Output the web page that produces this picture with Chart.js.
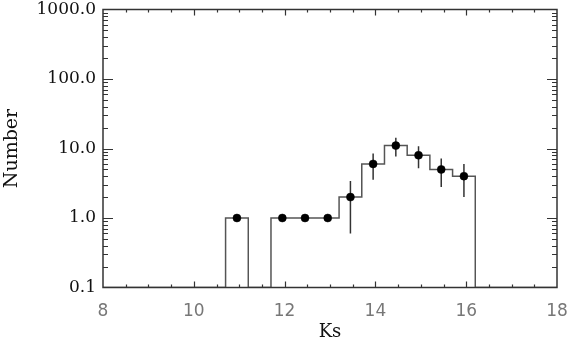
<!DOCTYPE html>
<html>
<head>
<meta charset="utf-8">
<script src="https://cdn.jsdelivr.net/npm/chart.js@4/dist/chart.umd.min.js"></script>
<style>
  html, body { margin: 0; padding: 0; background: #fff; }
  canvas { display: block; }
</style>
</head>
<body>
<canvas id="c" width="570" height="347"></canvas>
<script>
// ---- data ----
const binCenters = [10.95, 11.45, 11.95, 12.45, 12.95, 13.45, 13.95, 14.45, 14.95, 15.45, 15.95];
const counts     = [1, 0, 1, 1, 1, 2, 6, 11, 8, 5, 4];
const countErr   = [0, 0, 0, 0, 0, 1.4, 2.45, 3.3, 2.8, 2.2, 2.0];
const binWidth = 0.5;
const xTicks = [8, 10, 12, 14, 16, 18];
const xMinorStep = 0.5;
const yTicks = [0.1, 1, 10, 100, 1000];
const xTitle = 'Ks';
const yTitle = 'Number';

const yMin = yTicks[0], yMax = yTicks[yTicks.length - 1];
const xMin = xTicks[0], xMax = xTicks[xTicks.length - 1];

// histogram outline (stepped: vertical at left edge, then horizontal to right edge)
const histPts = [{x: xMin, y: yMin}, {x: binCenters[0] - binWidth / 2, y: yMin}];
binCenters.forEach((c, i) => {
  histPts.push({x: c + binWidth / 2, y: counts[i] > 0 ? counts[i] : yMin});
});
histPts.push({x: xMax, y: yMin});

// markers
const markerPts = [];
binCenters.forEach((c, i) => { if (counts[i] > 0) markerPts.push({x: c, y: counts[i]}); });

// error bars (broken by nulls)
const errPts = [];
binCenters.forEach((c, i) => {
  if (countErr[i] > 0) {
    errPts.push({x: c, y: counts[i] - countErr[i]});
    errPts.push({x: c, y: counts[i] + countErr[i]});
    errPts.push({x: c, y: null});
  }
});

const frameColor = '#333';

const framePlugin = {
  id: 'frame',
  afterDatasetsDraw(chart) {
    const {ctx, chartArea: a} = chart;
    const xs = chart.scales.x, ys = chart.scales.y;
    ctx.save();
    ctx.strokeStyle = frameColor;
    ctx.lineWidth = 1.2;
    const n = Math.round((xMax - xMin) / xMinorStep);
    for (let i = 1; i < n; i++) {
      const v = xMin + i * xMinorStep;
      const major = xTicks.includes(v);
      const len = major ? 6 : 3;
      const px = Math.round(xs.getPixelForValue(v)) + 0.5;
      ctx.beginPath();
      ctx.moveTo(px, a.bottom); ctx.lineTo(px, a.bottom - len);
      ctx.moveTo(px, a.top); ctx.lineTo(px, a.top + len);
      ctx.stroke();
    }
    for (let d = 0; d < yTicks.length - 1; d++) {
      for (let k = 1; k <= 9; k++) {
        const v = yTicks[d] * k;
        if (d === 0 && k === 1) continue;
        const len = k === 1 ? 10 : 5;
        const py = Math.round(ys.getPixelForValue(v)) + 0.5;
        ctx.beginPath();
        ctx.moveTo(a.left, py); ctx.lineTo(a.left + len, py);
        ctx.moveTo(a.right, py); ctx.lineTo(a.right - len, py);
        ctx.stroke();
      }
    }
    ctx.lineWidth = 1.5;
    ctx.strokeRect(a.left, a.top, a.right - a.left, a.bottom - a.top);
    ctx.restore();
  }
};

new Chart(document.getElementById('c'), {
  type: 'line',
  data: {
    datasets: [
      {
        label: 'points',
        data: markerPts,
        showLine: false,
        pointStyle: 'circle',
        pointRadius: 4,
        pointBackgroundColor: '#000',
        pointBorderColor: '#000',
        pointBorderWidth: 0.5,
        order: 0
      },
      {
        label: 'errors',
        data: errPts,
        borderColor: '#333',
        borderWidth: 1.5,
        pointRadius: 0,
        spanGaps: false,
        order: 1
      },
      {
        label: 'hist',
        data: histPts,
        stepped: 'after',
        borderColor: '#555',
        borderWidth: 1.5,
        pointRadius: 0,
        fill: false,
        order: 2
      }
    ]
  },
  options: {
    responsive: false,
    animation: false,
    devicePixelRatio: 1,
    layout: { padding: { top: 9.5, right: 13, left: 0, bottom: 0 } },
    plugins: { legend: { display: false }, tooltip: { enabled: false } },
    scales: {
      x: {
        type: 'linear',
        min: xMin, max: xMax,
        afterBuildTicks: (s) => { s.ticks = xTicks.map(v => ({value: v})); },
        afterFit: (s) => { s.height = 59.5; s.paddingLeft = 0; s.paddingRight = 0; },
        grid: { display: false, drawTicks: false },
        border: { display: false },
        ticks: {
          padding: 14,
          color: '#777',
          font: { family: 'DejaVu Sans', size: 17 },
          maxRotation: 0,
          callback: (v) => String(v)
        },
        title: {
          display: true,
          text: xTitle,
          color: '#111',
          font: { family: 'DejaVu Serif', size: 18 },
          padding: { top: 0, bottom: 4 }
        }
      },
      y: {
        type: 'logarithmic',
        min: yMin, max: yMax,
        afterBuildTicks: (s) => { s.ticks = yTicks.map(v => ({value: v})); },
        afterFit: (s) => { s.width = 103; s.paddingTop = 0; s.paddingBottom = 0; },
        grid: { display: false, drawTicks: false },
        border: { display: false },
        ticks: {
          padding: 7,
          color: '#111',
          font: { family: 'DejaVu Serif', size: 17 },
          callback: (v) => Number(v).toFixed(1)
        },
        title: {
          display: true,
          text: yTitle,
          color: '#111',
          font: { family: 'DejaVu Serif', size: 19 },
          padding: { top: 1, bottom: 0 }
        }
      }
    }
  },
  plugins: [framePlugin]
});
</script>
</body>
</html>
